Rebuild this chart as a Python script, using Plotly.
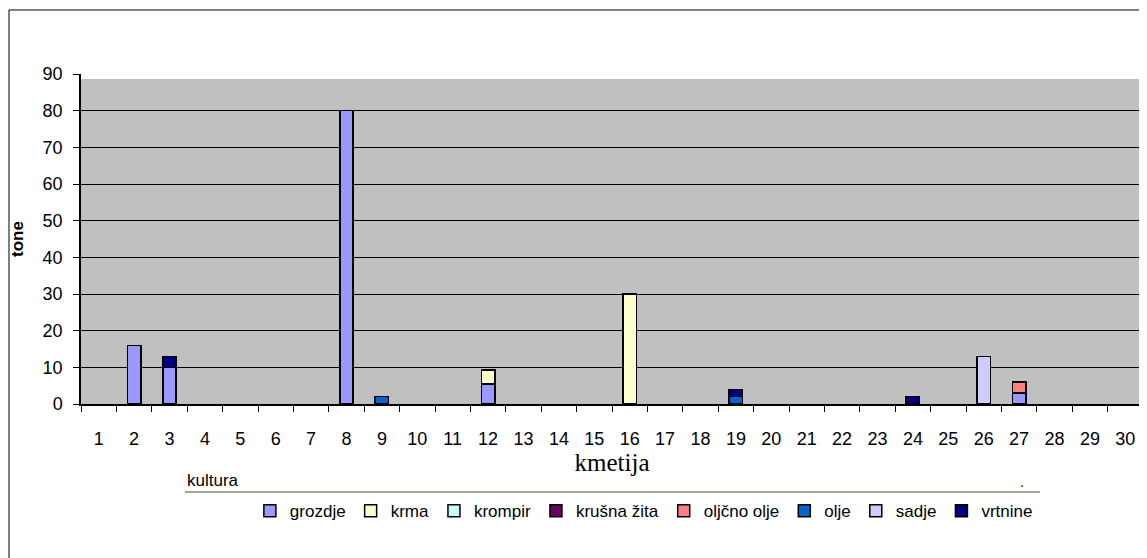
import plotly.graph_objects as go

# kmetija 1..30
farms = [str(i) for i in range(1, 31)]

# tonnes per culture (None = no value)
grozdje = [None, 16, 10, None, None, None, None, 80, None, None, None, 5.5, None, None, None,
           None, None, None, None, None, None, None, None, None, None, None, 3, None, None, None]
krma = [None, None, None, None, None, None, None, None, None, None, None, 3.8, None, None, None,
        30, None, None, None, None, None, None, None, None, None, None, None, None, None, None]
krompir = [None] * 30
krusna_zita = [None] * 30
oljcno_olje = [None, None, None, None, None, None, None, None, None, None, None, None, None, None, None,
               None, None, None, None, None, None, None, None, None, None, None, 3, None, None, None]
olje = [None, None, None, None, None, None, None, None, 2, None, None, None, None, None, None,
        None, None, None, 2, None, None, None, None, None, None, None, None, None, None, None]
sadje = [None, None, None, None, None, None, None, None, None, None, None, None, None, None, None,
         None, None, None, None, None, None, None, None, None, None, 13, None, None, None, None]
vrtnine = [None, None, 3, None, None, None, None, None, None, None, None, None, None, None, None,
           None, None, None, 2, None, None, None, None, 2, None, None, None, None, None, None]

series = [
    ("grozdje", grozdje, "#9999FF"),
    ("krma", krma, "#FFFFCC"),
    ("krompir", krompir, "#CCFFFF"),
    ("krušna žita", krusna_zita, "#660066"),
    ("oljčno olje", oljcno_olje, "#FF8080"),
    ("olje", olje, "#0066CC"),
    ("sadje", sadje, "#CCCCFF"),
    ("vrtnine", vrtnine, "#000080"),
]

fig = go.Figure()
for name, vals, color in series:
    fig.add_trace(go.Bar(
        x=farms, y=vals, name=name,
        marker=dict(color=color, line=dict(color="#000000", width=1.5)),
    ))

font = dict(family="Liberation Sans, Arial, sans-serif", size=18, color="#000000")

# page body has an 8px margin, so the margins are shifted by that amount
fig.update_layout(
    barmode="stack",
    bargap=0.62,
    width=1147, height=558,
    margin=dict(l=73, r=12, t=66, b=162),
    paper_bgcolor="#FFFFFF",
    plot_bgcolor="#C0C0C0",
    font=font,
    showlegend=True,
    legend=dict(
        orientation="h", x=0.53, xanchor="center", y=-0.27, yanchor="top",
        font=dict(family="Liberation Sans, Arial, sans-serif", size=17, color="#000000"),
        bgcolor="rgba(0,0,0,0)", traceorder="normal", itemwidth=30,
    ),
    xaxis=dict(
        type="category", showline=True, linecolor="#000000", linewidth=1.5,
        ticks="outside", ticklen=6, tickcolor="#000000", tickson="boundaries",
        ticklabelstandoff=18, showgrid=False, automargin=False,
        title=dict(text="kmetija", standoff=0,
                   font=dict(family="Liberation Serif, Times New Roman, serif", size=25)),
    ),
    yaxis=dict(
        range=[0, 90], dtick=10, showline=True, linecolor="#000000", linewidth=1.5,
        ticks="outside", ticklen=6, tickcolor="#000000", ticklabelstandoff=7,
        showgrid=True, gridcolor="#000000", gridwidth=1, zeroline=False, automargin=False,
        title=dict(text="<b>tone</b>", standoff=28, font=dict(size=17)),
    ),
    shapes=[
        # outer chart border
        dict(type="rect", xref="paper", yref="paper", x0=-0.0678, x1=1.01, y0=-0.6, y1=1.194,
             line=dict(color="#000000", width=1), layer="below"),
        # white strip at the top of the plot area
        dict(type="rect", xref="paper", yref="paper", x0=0, x1=1, y0=(404 - 79) / 330, y1=1,
             fillcolor="#FFFFFF", line=dict(width=0), layer="below"),
        # field button underline
        dict(type="line", xref="paper", yref="paper", x0=(185 - 81) / 1062, x1=(1040 - 81) / 1062,
             y0=(404 - 492) / 330, y1=(404 - 492) / 330, line=dict(color="#A8A498", width=2)),
    ],
    annotations=[
        dict(text="kultura", xref="paper", yref="paper", x=(185 - 81) / 1062, y=(404 - 480) / 330,
             xanchor="left", yanchor="middle", showarrow=False, font=dict(size=17)),
        dict(text=".", xref="paper", yref="paper", x=(1022 - 81) / 1062, y=(404 - 482) / 330,
             xanchor="center", yanchor="middle", showarrow=False, font=dict(size=14)),
    ],
)

fig.write_html("out.html")
